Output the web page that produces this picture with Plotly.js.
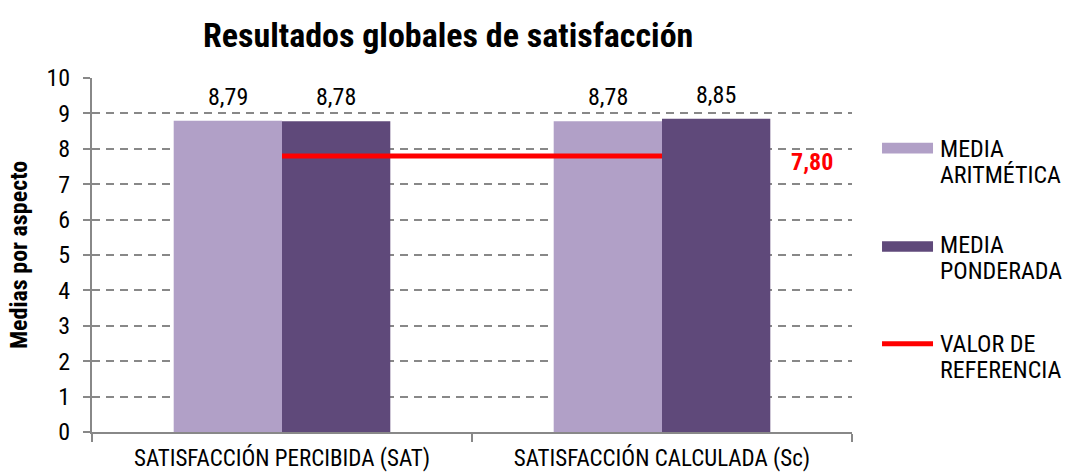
<!DOCTYPE html>
<html><head><meta charset="utf-8">
<script src="https://cdn.plot.ly/plotly-3.0.1.min.js"></script>
<style>html,body{margin:0;padding:0;background:#fff}#c{width:1067px;height:473px}</style>
</head><body><div id="c"></div>
<script>
const categories = ['SATISFACCIÓN PERCIBIDA (SAT)', 'SATISFACCIÓN CALCULADA (Sc)'];
const mediaAritmetica = [8.79, 8.78];
const mediaPonderada = [8.78, 8.85];
const valorReferencia = [7.80, 7.80];
const seriesNames = ['MEDIA<br>ARITMÉTICA', 'MEDIA<br>PONDERADA', 'VALOR DE<br>REFERENCIA'];
const seriesColors = ['#B1A0C7', '#5F497A', '#FF0000'];
const yTicks = [0,1,2,3,4,5,6,7,8,9,10];

const F = '"Roboto Condensed", "Liberation Sans Narrow", "DejaVu Sans Condensed", sans-serif';
const fmt = v => v.toFixed(2).replace('.', ',');
const BARGAP = 0.43;
const half = (1 - BARGAP) / 4;

const traces = [
  {type:'bar', x:categories, y:mediaAritmetica, name:seriesNames[0], marker:{color:seriesColors[0]}, showlegend:false},
  {type:'bar', x:categories, y:mediaPonderada, name:seriesNames[1], marker:{color:seriesColors[1]}, showlegend:false},
  {type:'scatter', mode:'lines', x:categories, y:valorReferencia, name:seriesNames[2],
   line:{color:seriesColors[2], width:5}, showlegend:false}
];

const annotations = [];
[mediaAritmetica, mediaPonderada].forEach((vals, s) => {
  vals.forEach((v, i) => annotations.push({xref:'x', yref:'y', x:i + (s === 0 ? -half : half), y:v,
    yshift:24, text:fmt(v), showarrow:false, font:{family:F, size:24, color:'#000'}}));
});
annotations.push({xref:'x', yref:'y', x:1.395, y:valorReferencia[1], yshift:-6,
  text:'<b>' + fmt(valorReferencia[1]) + '</b>', showarrow:false, font:{family:F, size:24, color:'#FF0000'}});

// custom legend (positions in paper units)
const shapes = [];
const legMid = [0.802, 0.524, 0.249];
const legText = [0.764, 0.4915, 0.212];
const LINE = 26 / 354;
seriesNames.forEach((n, k) => {
  if (k < 2) {
    shapes.push({type:'rect', xref:'paper', yref:'paper', x0:1.0395, x1:1.1066, y0:legMid[k] - 0.015, y1:legMid[k] + 0.015,
      fillcolor:seriesColors[k], line:{width:0}});
  } else {
    shapes.push({type:'line', xref:'paper', yref:'paper', x0:1.0395, x1:1.1066, y0:legMid[k], y1:legMid[k],
      line:{color:seriesColors[k], width:5}});
  }
  const lines = n.split('<br>');
  lines.forEach((ln, j) => annotations.push({xref:'paper', yref:'paper', x:1.113,
    y:legText[k] + (lines.length - 1) / 2 * LINE - j * LINE, xanchor:'left', yanchor:'middle',
    align:'left', text:ln, showarrow:false, font:{family:F, size:24, color:'#000'}}));
});

const layout = {
  width:1067, height:473,
  margin:{l:92, r:215, t:78, b:41},
  paper_bgcolor:'#fff', plot_bgcolor:'#fff',
  title:{text:'<b>Resultados globales de satisfacción</b>', font:{family:F, size:34, color:'#000'},
         x:0.42, xanchor:'center', y:0.925, yanchor:'middle'},
  barmode:'group', bargap:BARGAP, bargroupgap:0,
  showlegend:false,
  xaxis:{type:'category', showline:true, linecolor:'#888', linewidth:2, ticks:'outside',
         tickson:'boundaries', ticklen:8, tickcolor:'#888', tickwidth:2, ticklabelstandoff:4,
         tickfont:{family:F, size:23, color:'#000'}, showgrid:false, fixedrange:true},
  yaxis:{range:[0,10], tickvals:yTicks, ticktext:yTicks.map(String), showline:true, linecolor:'#888', linewidth:2,
         ticks:'outside', ticklen:7, tickcolor:'#888', tickwidth:2, ticklabelstandoff:8,
         tickfont:{family:F, size:24, color:'#000'},
         showgrid:true, gridcolor:'#888', gridwidth:2, griddash:'8px,6px', zeroline:false,
         title:{text:'<b>Medias por aspecto</b>', font:{family:F, size:24, color:'#000'}, standoff:12},
         fixedrange:true},
  yaxis2:{overlaying:'y', matches:'y', range:[0,10], tickvals:yTicks, ticks:'inside', ticklen:7, tickcolor:'#888',
          tickwidth:2, showticklabels:false, showgrid:false, showline:false, zeroline:false, fixedrange:true},
  shapes:shapes,
  annotations:annotations,
  hovermode:false
};
Plotly.newPlot('c', traces, layout, {displayModeBar:false, staticPlot:true});
</script></body></html>
